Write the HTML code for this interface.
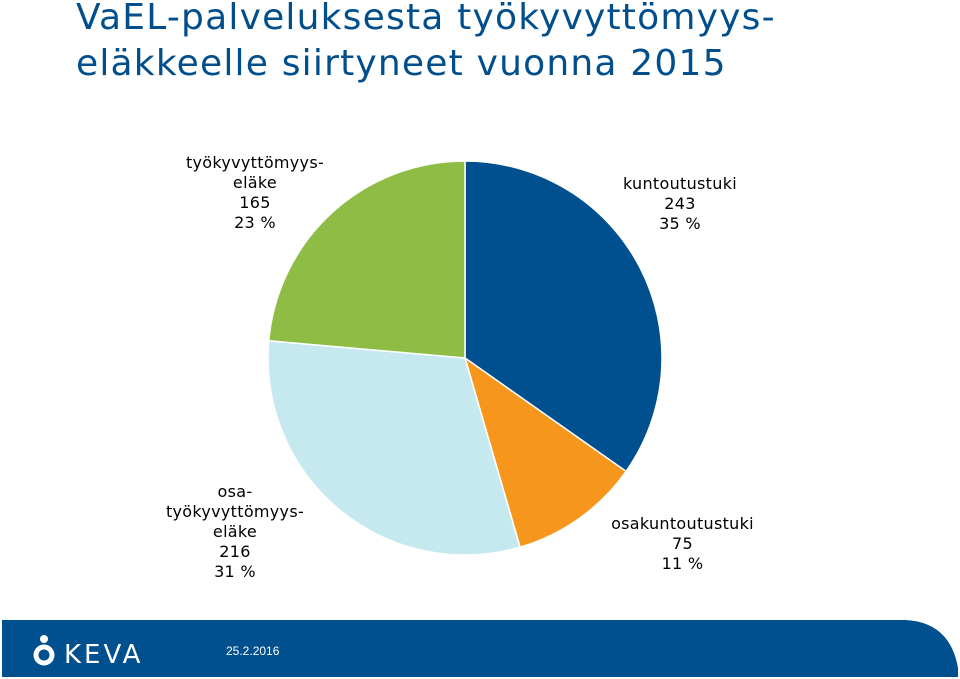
<!DOCTYPE html>
<html><head><meta charset="utf-8"><style>
body{margin:0;width:960px;height:679px;background:#fff;overflow:hidden;position:relative;font-family:"DejaVu Sans","Liberation Sans",sans-serif}
#title{position:absolute;left:76px;top:-5px;font-size:36px;line-height:46px;color:#004f8c;margin:0;font-weight:normal;letter-spacing:1.2px}
.lbl{position:absolute;font-size:16px;line-height:20px;text-align:center;color:#000;letter-spacing:0.3px}
</style></head><body>
<h1 id="title">VaEL-palveluksesta työkyvyttömyys-<br>eläkkeelle siirtyneet vuonna 2015</h1>
<svg id="pie" width="960" height="679" style="position:absolute;left:0;top:0"></svg>
<div class="lbl" style="left:600px;top:174px;width:160px">kuntoutustuki<br>243<br>35 %</div>
<div class="lbl" style="left:590px;top:514px;width:185px">osakuntoutustuki<br>75<br>11 %</div>
<div class="lbl" style="left:140px;top:482px;width:190px">osa-<br>työkyvyttömyys-<br>eläke<br>216<br>31 %</div>
<div class="lbl" style="left:160px;top:153px;width:190px">työkyvyttömyys-<br>eläke<br>165<br>23 %</div>
<svg width="960" height="679" style="position:absolute;left:0;top:0">
<path d="M2,620 H905 Q950,622 958,668 V677 H2 Z" fill="#00508f"/>
<circle cx="44" cy="639" r="4" fill="#fff"/>
<circle cx="44" cy="655" r="8" fill="none" stroke="#fff" stroke-width="5"/>
<text x="64" y="663" fill="#fff" font-size="26" font-family="DejaVu Sans, sans-serif" letter-spacing="3">KEVA</text>
<text x="226" y="655" fill="#fff" font-size="12" font-family="Liberation Sans, sans-serif">25.2.2016</text>
</svg>
<script>
const categories=["kuntoutustuki","osakuntoutustuki","osa-työkyvyttömyyseläke","työkyvyttömyyseläke"];
const values=[243,75,216,165];
const colors=["#00508f","#f7961d","#c6e8ef","#8fbc44"];
const svg=document.getElementById('pie');
const cx=465,cy=358,r=197;
const total=values.reduce((a,b)=>a+b,0);
let a=0;
values.forEach((v,i)=>{
  const a0=a, a1=a+v/total*2*Math.PI; a=a1;
  const x0=cx+r*Math.sin(a0),y0=cy-r*Math.cos(a0),x1=cx+r*Math.sin(a1),y1=cy-r*Math.cos(a1);
  const p=document.createElementNS('http://www.w3.org/2000/svg','path');
  p.setAttribute('d',`M${cx},${cy} L${x0},${y0} A${r},${r} 0 ${a1-a0>Math.PI?1:0} 1 ${x1},${y1} Z`);
  p.setAttribute('fill',colors[i]);
  p.setAttribute('stroke','#fff');
  p.setAttribute('stroke-width','1.5');
  
  
  svg.appendChild(p);
});
</script>
</body></html>
